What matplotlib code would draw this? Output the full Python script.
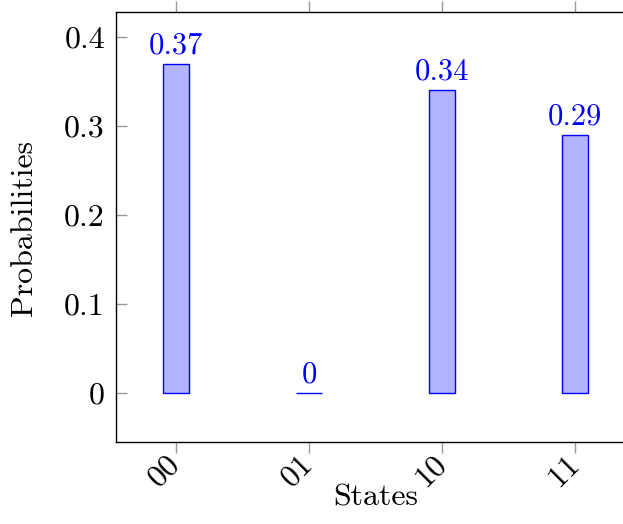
import matplotlib
matplotlib.use("Agg")
import matplotlib.pyplot as plt

states = ["00", "01", "10", "11"]
probs = [0.37, 0.0, 0.34, 0.29]
labels = ["0.37", "0", "0.34", "0.29"]
yticks = [0, 0.1, 0.2, 0.3, 0.4]
yticklabels = ["0", "0.1", "0.2", "0.3", "0.4"]

plt.rcParams["font.family"] = ["cmr10", "DejaVu Serif"]
plt.rcParams["axes.unicode_minus"] = False

FS = 22
FT = 23
fig = plt.figure(figsize=(6.23, 5.24), dpi=100)
W, H = 623, 524
left, right, top, bottom = 116, 623, 12, 442
ax = fig.add_axes([left / W, 1 - bottom / H, (right - left) / W + 0.01, (bottom - top) / H])

x = list(range(len(states)))
ax.bar(x, probs, width=0.2, color="#b3b3ff", edgecolor="blue", linewidth=1.0)
for xi, v, lab in zip(x, probs, labels):
    ax.annotate(lab, (xi, v), xytext=(0, 7.5), textcoords="offset points",
                ha="center", va="baseline", color="blue", fontsize=FS)

ax.set_xlim(-0.451, 3.408)
ax.set_ylim(-0.055, 0.428)
ax.set_xticks(x)
ax.set_xticklabels(states, rotation=45, ha="right", va="center",
                   rotation_mode="anchor", fontsize=FT)
ax.set_yticks(yticks)
ax.set_yticklabels(yticklabels, fontsize=FT)
ax.tick_params(axis="x", direction="out", length=8, color="#999999", width=1,
               top=True, bottom=True, pad=5)
ax.tick_params(axis="y", direction="in", length=8, color="#999999", width=1,
               left=True, right=False, pad=8)
ax.spines["right"].set_visible(False)
for s in ["left", "top", "bottom"]:
    ax.spines[s].set_linewidth(1.0)

ax.set_xlabel("States", fontsize=FT)
ax.set_ylabel("Probabilities", fontsize=FT)
axw = (right - left) + 0.01 * W
ax.xaxis.set_label_coords((376 - left) / axw, (bottom - 484) / (bottom - top))
ax.yaxis.set_label_coords((38 - left) / axw, (bottom - 228) / (bottom - top))

fig.savefig("out.png", dpi=100)
